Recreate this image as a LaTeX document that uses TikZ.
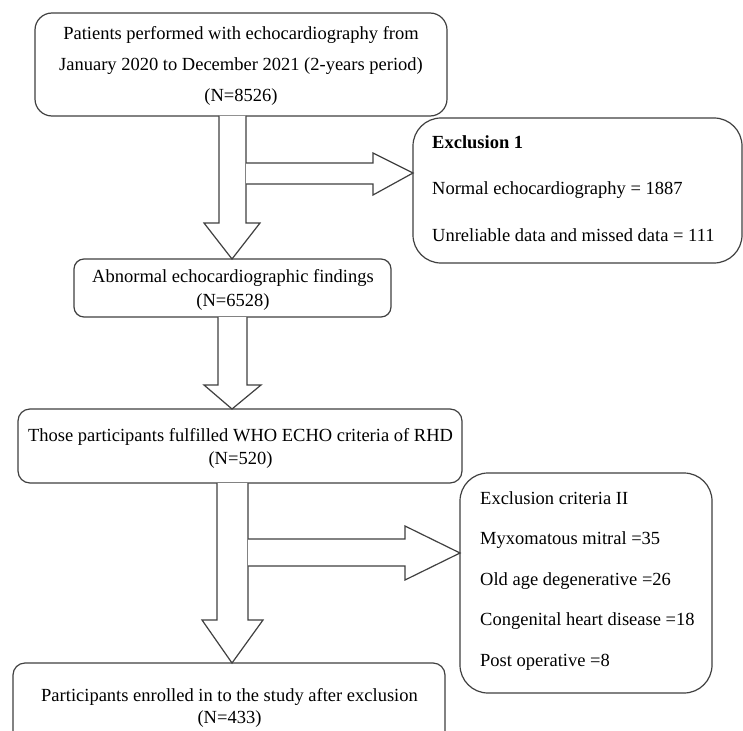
\documentclass[tikz,border=0pt]{standalone}
\usepackage{fontspec}
\setmainfont{Liberation Serif}
\begin{document}
\begin{tikzpicture}[x=1pt,y=-1pt,
  box/.style={draw=black!75, line width=1.2pt, inner sep=0pt},
  blockarrow/.style={draw=black!75, line width=1.2pt, fill=white, line join=miter},
  txt/.style={inner sep=0pt, align=center, font=\fontsize{18.5}{#1}\selectfont},
  ltxt/.style={inner sep=0pt, align=left, anchor=west, font=\fontsize{18.5}{#1}\selectfont}]
\useasboundingbox (0,0) rectangle (743,730);
\clip (0,0) rectangle (743,730);
\fill[white] (0,0) rectangle (743,730);

% boxes
\node[box, rounded corners=17pt, minimum width=412pt, minimum height=103pt] (top) at (241,64.5) {};
\node[txt=31pt] (topT) at (241,66) {Patients performed with echocardiography from\\January 2020 to December 2021 (2-years period)\\(N=8526)};

\node[box, rounded corners=28pt, minimum width=329pt, minimum height=145pt] (ex1) at (577.5,190.5) {};
\node[ltxt=46.5pt] (ex1T) at (432,188.5) {\textbf{Exclusion 1}\\Normal echocardiography = 1887\\Unreliable data and missed data = 111};

\node[box, rounded corners=10pt, minimum width=317pt, minimum height=58pt] (abn) at (232.5,288) {};
\node[txt=24pt] (abnT) at (233,290) {Abnormal echocardiographic findings\\(N=6528)};

\node[box, rounded corners=12pt, minimum width=444pt, minimum height=74pt] (who) at (240,446) {};
\node[txt=23pt] (whoT) at (240.5,448.5) {Those participants fulfilled WHO ECHO criteria of RHD\\(N=520)};

\node[box, rounded corners=28pt, minimum width=252pt, minimum height=220pt] (ex2) at (586,583) {};
\node[ltxt=40.5pt] (ex2T) at (480,581) {Exclusion criteria II\\Myxomatous mitral =35\\Old age degenerative =26\\Congenital heart disease =18\\Post operative =8};

\node[box, rounded corners=12pt, minimum width=432pt, minimum height=80pt] (part) at (229,703) {};
\node[txt=22pt] (partT) at (229.5,708) {Participants enrolled in to the study after exclusion\\(N=433)};

% block arrows
\draw[blockarrow] (219,116) -- (219,223) -- (204,223) -- (232,259) -- (260,223) -- (246,223) -- (246,116);
\draw[blockarrow] (246,163) -- (373,163) -- (373,153) -- (413,173) -- (373,195) -- (373,184) -- (246,184);

\draw[blockarrow] (218,317) -- (218,385) -- (204,385) -- (232,409) -- (261,385) -- (247,385) -- (247,317);

\draw[blockarrow] (217,483) -- (217,620) -- (202,620) -- (232,663) -- (263,620) -- (248,620) -- (248,483);
\draw[blockarrow] (248,539) -- (405,539) -- (405,526) -- (460,553) -- (405,580) -- (405,566) -- (248,566);
\end{tikzpicture}
\end{document}
